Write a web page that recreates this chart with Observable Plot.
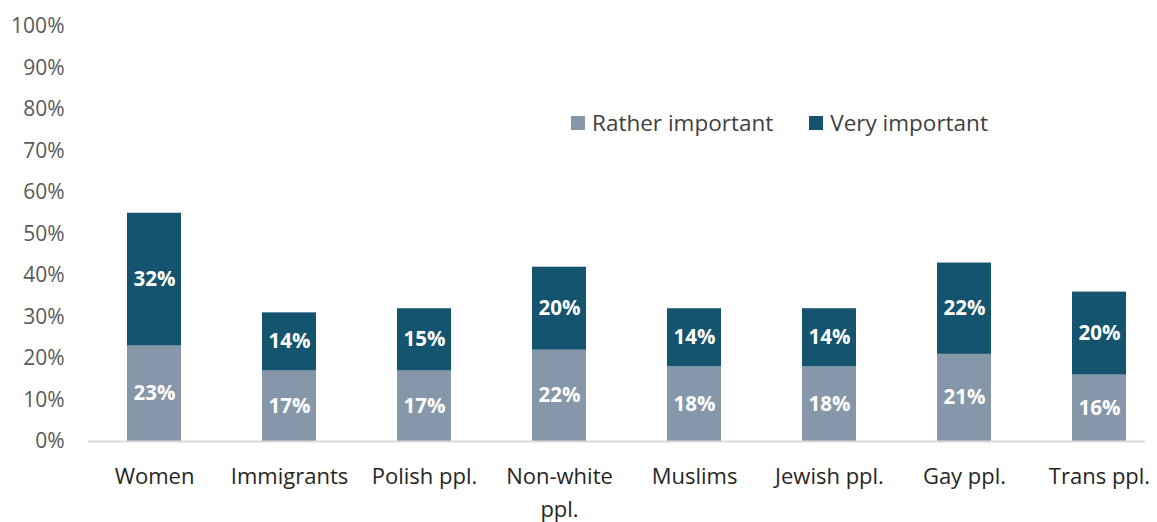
<!DOCTYPE html>
<html>
<head>
<meta charset="utf-8">
<script src="https://cdn.jsdelivr.net/npm/d3@7"></script>
<script src="https://cdn.jsdelivr.net/npm/@observablehq/plot@0.6"></script>
<style>
  html, body { margin: 0; padding: 0; background: #fff; }
  #wrap { position: relative; width: 1157px; height: 522px; font-family: "Open Sans", sans-serif; }
  #legend { position: absolute; left: 571px; top: 107px; display: flex; align-items: center; font-size: 22.5px; color: #404040; }
  .item { display: flex; align-items: center; margin-right: 36px; }
  .sw { width: 14px; height: 14px; margin-right: 7px; }
</style>
</head>
<body>
<div id="wrap"><div id="legend"></div></div>
<script>
const categories = ["Women", "Immigrants", "Polish ppl.", "Non-white ppl.", "Muslims", "Jewish ppl.", "Gay ppl.", "Trans ppl."];
const seriesNames = ["Rather important", "Very important"];
const ratherImportant = [23, 17, 17, 22, 18, 18, 21, 16];
const veryImportant = [32, 14, 15, 20, 14, 14, 22, 20];
const colors = ["#8597A9", "#14546F"];
const yTicks = [0, 10, 20, 30, 40, 50, 60, 70, 80, 90, 100];

const data = [];
categories.forEach((c, i) => {
  data.push({category: c, series: seriesNames[0], value: ratherImportant[i]});
  data.push({category: c, series: seriesNames[1], value: veryImportant[i]});
});

const chart = Plot.plot({
  width: 1157,
  height: 522,
  marginLeft: 88,
  marginRight: 12,
  marginTop: 26,
  marginBottom: 81,
  style: {fontFamily: "'Open Sans', sans-serif", background: "#fff"},
  x: {domain: categories, range: [86.5, 1166.5], paddingInner: 0.6, paddingOuter: 0.3, label: null},
  y: {domain: [0, 100], label: null},
  color: {domain: seriesNames, range: colors},
  marks: [
    Plot.axisY({ticks: yTicks, tickSize: 0, tickPadding: 24, tickFormat: d => d + "%", fontSize: 21, fill: "#595959", label: null}),
    Plot.axisX({tickSize: 0, tickPadding: 19, fontSize: 22, fill: "#262626", lineHeight: 1.5, label: null,
      tickFormat: d => d === "Non-white ppl." ? "Non-white\nppl." : d, textAnchor: "middle", lineAnchor: "top"}),
    Plot.barY(data, Plot.stackY({x: "category", y: "value", fill: "series", order: seriesNames})),
    Plot.ruleY([0], {stroke: "#D9D9D9", strokeWidth: 2}),
    Plot.text(data, Plot.stackY({x: "category", y: "value", z: "series", order: seriesNames, text: d => d.value + "%", fill: "white", fontWeight: "bold", fontSize: 20.5}))
  ]
});
document.getElementById("wrap").prepend(chart);

const legend = document.getElementById("legend");
seriesNames.forEach((s, i) => {
  const it = document.createElement("div");
  it.className = "item";
  it.innerHTML = `<span class="sw" style="background:${colors[i]}"></span><span>${s}</span>`;
  legend.appendChild(it);
});
</script>
</body>
</html>
